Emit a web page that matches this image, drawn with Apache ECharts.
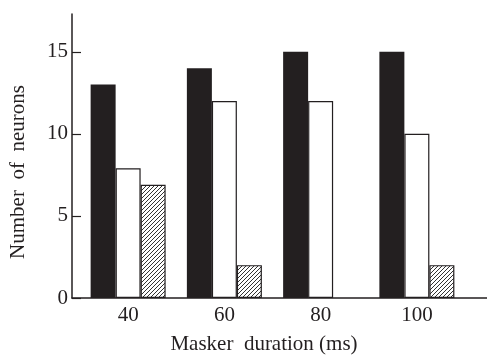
<!DOCTYPE html>
<html>
<head>
<meta charset="utf-8">
<script src="https://cdn.jsdelivr.net/npm/echarts@6/dist/echarts.min.js"></script>
<style>
  html, body { margin: 0; padding: 0; background: #fff; }
  #chart { width: 487px; height: 360px; }
</style>
</head>
<body>
<div id="chart"></div>
<script>
// data
const durations = ["40", "60", "80", "100"];
const blackVals = [13, 14, 15, 15];
const whiteVals = [7.9, 12, 12, 10];
const hatchVals = [6.9, 2, 0, 2];
const yTicks = [0, 5, 10, 15];

const ink = "#231f20";
const serif = "Liberation Serif";

// diagonal hatch tile
const makeHatch = () => {
  const c = document.createElement("canvas");
  c.width = 4;
  c.height = 4;
  const g = c.getContext("2d");
  g.fillStyle = "#fff";
  g.fillRect(0, 0, 4, 4);
  g.strokeStyle = "#333";
  g.lineWidth = 1;
  g.beginPath();
  g.moveTo(0, 4);
  g.lineTo(4, 0);
  g.moveTo(-1, 1);
  g.lineTo(1, -1);
  g.moveTo(3, 5);
  g.lineTo(5, 3);
  g.stroke();
  return c;
};

// zero-height bars leave no outline in the original
const noZeroOutline = (vals) =>
  vals.map((v) => (v === 0 ? { value: v, itemStyle: { borderWidth: 0 } } : v));

const myChart = echarts.init(document.getElementById("chart"));

const option = {
  animation: false,
  grid: [
    { left: 80, right: 22, top: 14, bottom: 62 },
    // only used to draw the full-width x axis line
    { left: 72, right: 0, top: 14, bottom: 62 },
  ],
  xAxis: [
    {
      type: "category",
      gridIndex: 0,
      data: durations,
      axisLine: { show: false },
      axisTick: { show: false },
      axisLabel: {
        color: ink,
        fontFamily: serif,
        fontSize: 21,
        margin: 7,
      },
      name: "Masker  duration (ms)",
      nameLocation: "middle",
      nameGap: 36,
      nameTextStyle: {
        color: ink,
        fontFamily: serif,
        fontSize: 21,
        padding: [0, 17, 0, 0],
      },
    },
    {
      type: "value",
      gridIndex: 1,
      min: 0,
      max: 1,
      axisLine: { show: true, lineStyle: { color: ink, width: 1.5 } },
      axisTick: { show: false },
      axisLabel: { show: false },
      splitLine: { show: false },
    },
  ],
  yAxis: [
    {
      type: "value",
      gridIndex: 0,
      min: 0,
      max: 17.3,
      interval: 5,
      offset: 8,
      axisLine: { show: true, lineStyle: { color: ink, width: 1.5 } },
      axisTick: {
        show: true,
        inside: true,
        length: 9,
        lineStyle: { color: ink, width: 1.2 },
        customValues: yTicks,
      },
      axisLabel: {
        color: ink,
        fontFamily: serif,
        fontSize: 21,
        margin: 4,
        customValues: yTicks,
      },
      splitLine: { show: false },
      name: "Number  of  neurons",
      nameLocation: "middle",
      nameGap: 43,
      nameTextStyle: {
        color: ink,
        fontFamily: serif,
        fontSize: 21,
        padding: [0, 32, 0, 0],
      },
    },
    {
      type: "value",
      gridIndex: 1,
      show: false,
    },
  ],
  series: [
    {
      name: "black",
      type: "bar",
      barWidth: 25,
      barGap: "0%",
      itemStyle: { color: ink },
      data: blackVals,
    },
    {
      name: "white",
      type: "bar",
      barWidth: 25,
      barGap: "0%",
      itemStyle: { color: "#fff", borderColor: ink, borderWidth: 1.2 },
      data: noZeroOutline(whiteVals),
    },
    {
      name: "hatched",
      type: "bar",
      barWidth: 25,
      barGap: "0%",
      itemStyle: {
        color: { image: makeHatch(), repeat: "repeat" },
        borderColor: ink,
        borderWidth: 1.2,
      },
      data: noZeroOutline(hatchVals),
    },
  ],
};

myChart.setOption(option);
</script>
</body>
</html>
